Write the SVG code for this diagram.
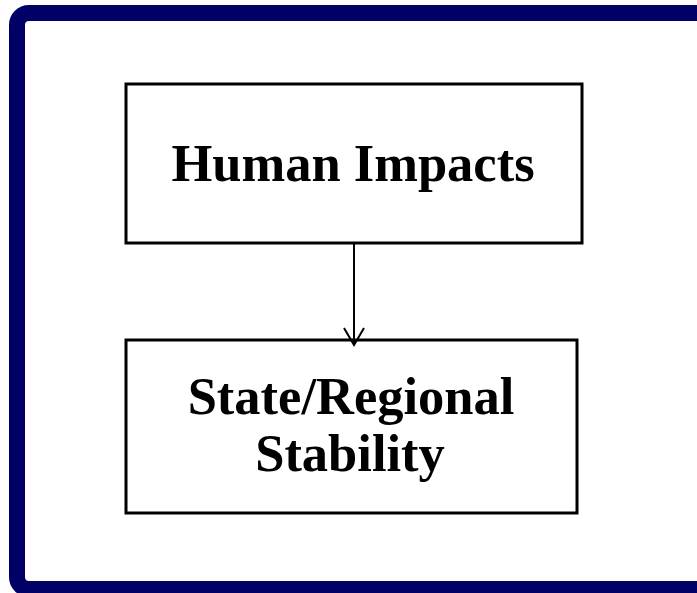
<svg xmlns="http://www.w3.org/2000/svg" width="697" height="593" viewBox="0 0 697 593">
<defs>
<style>
.box{fill:#fff;stroke:#000;stroke-width:3}
.lbl{font-family:"Liberation Serif","Times New Roman",serif;font-weight:bold;font-size:52.5px;fill:#000;text-anchor:middle}
.conn{stroke:#000;stroke-width:2;fill:none}
</style>
<marker id="arr" viewBox="0 0 20 22" refX="18" refY="11" markerWidth="20" markerHeight="22" markerUnits="userSpaceOnUse" orient="auto">
<path d="M1,1 L18,11 L1,21" fill="none" stroke="#000" stroke-width="2"/>
</marker>
</defs>
<rect width="697" height="593" fill="#fff"/>
<rect x="17" y="13" width="720" height="576" rx="12" fill="none" stroke="#000066" stroke-width="16"/>
<g id="human-impacts">
<rect class="box" x="126" y="84" width="456" height="159"/>
<text class="lbl" x="353" y="181">Human Impacts</text>
</g>
<g id="state-regional-stability">
<rect class="box" x="126" y="340" width="451" height="173"/>
<text class="lbl" x="351" y="414">State/Regional</text>
<text class="lbl" x="350" y="471">Stability</text>
</g>
<g id="connectors">
<line class="conn" x1="354" y1="244" x2="354" y2="345" marker-end="url(#arr)"/>
</g>
</svg>
